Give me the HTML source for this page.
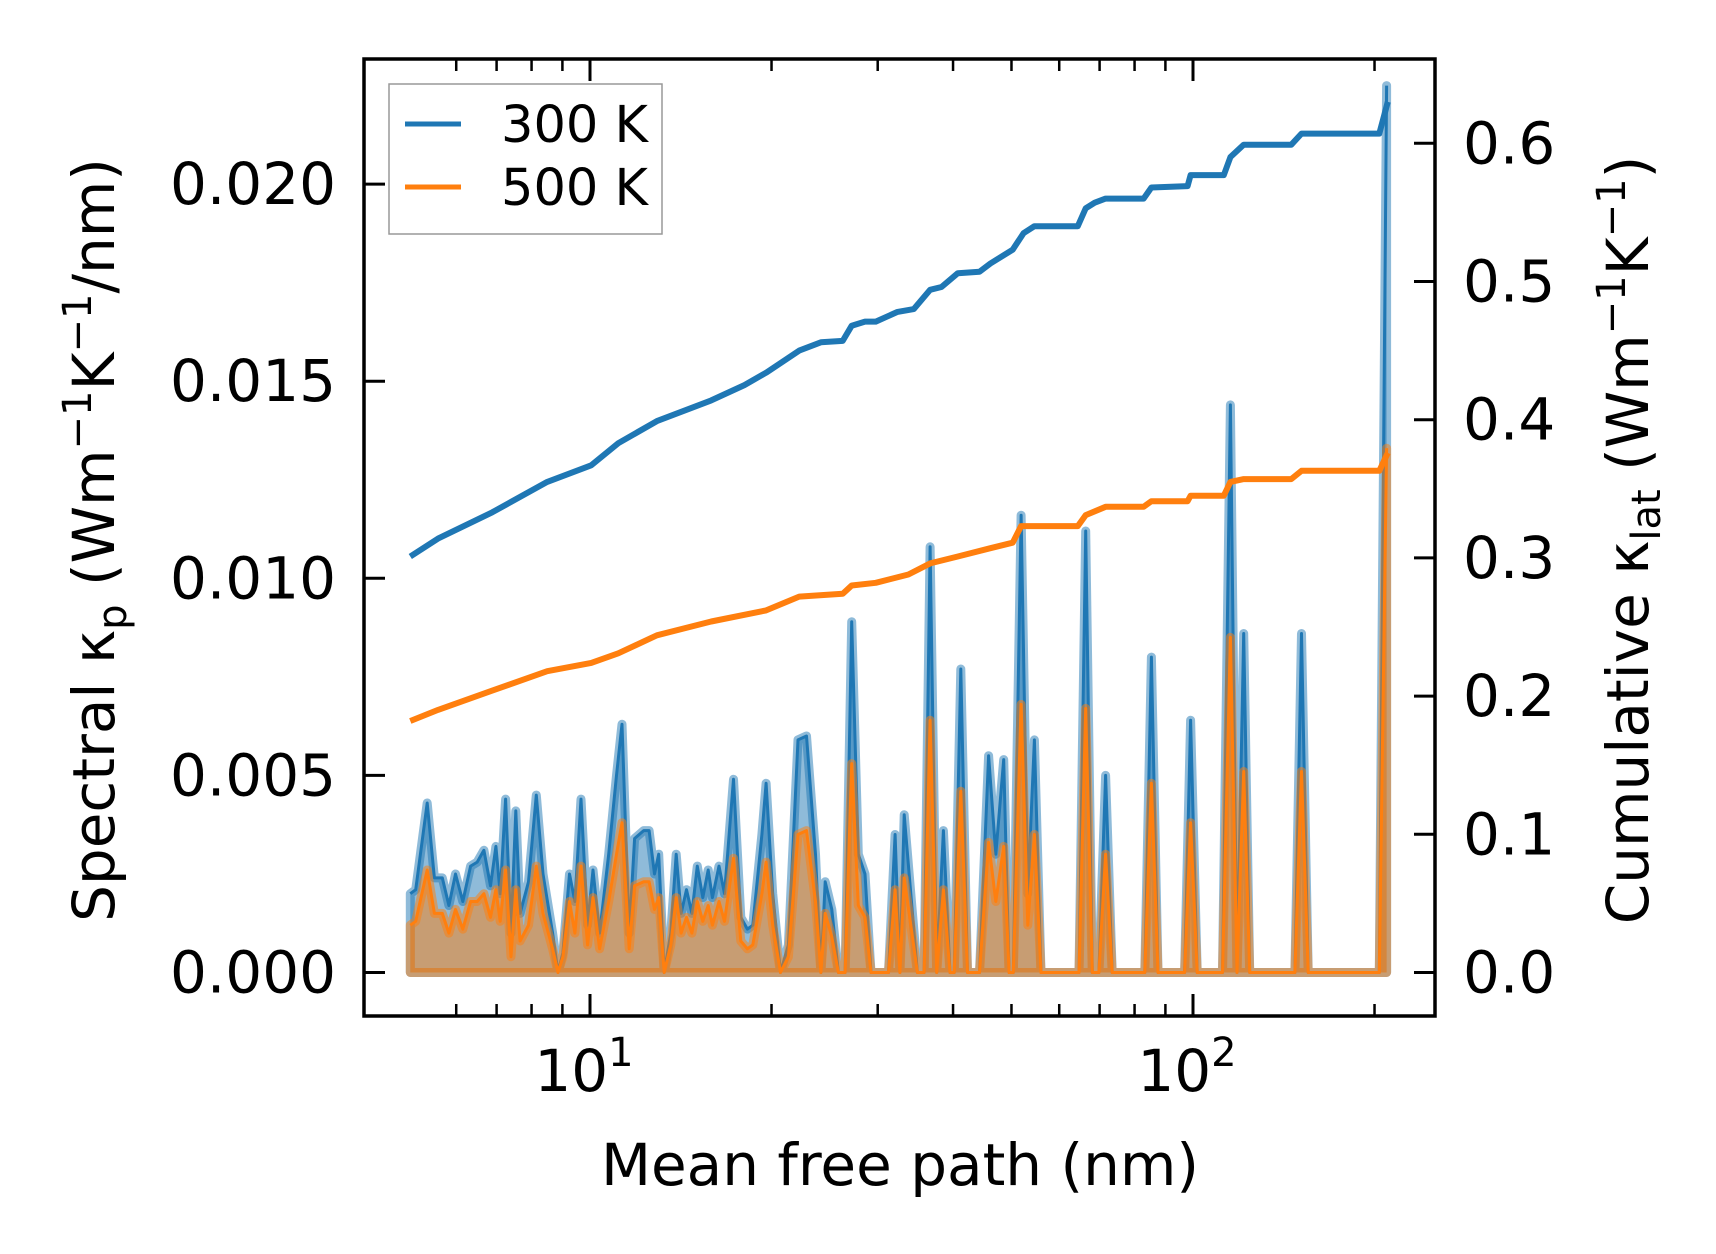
<!DOCTYPE html>
<html><head><meta charset="utf-8">
<style>
html,body{margin:0;padding:0;background:#fff;}
svg{display:block;font-family:"DejaVu Sans","Liberation Sans",sans-serif;}
</style></head>
<body>
<svg id="chart" width="1716" height="1254" viewBox="0 0 1716 1254" xmlns="http://www.w3.org/2000/svg">
<g id="series"></g>
<g id="axes"></g>
</svg>
<script>
// log10 of mean free path (nm) for spectral data
const spectralLogMfp = [
0.702,0.711,0.730,0.742,0.755,0.766,0.777,0.789,0.802,0.813,
0.824,0.835,0.844,0.851,0.860,0.869,0.877,0.884,0.898,0.911,
0.922,0.938,0.947,0.955,0.966,0.975,0.985,0.996,1.005,1.016,
1.031,1.044,1.053,1.065,1.074,1.089,1.098,1.107,1.114,1.123,
1.134,1.143,1.151,1.160,1.169,1.178,1.187,1.196,1.203,1.214,
1.223,1.238,1.250,1.261,1.270,1.285,1.292,1.303,1.316,1.329,
1.345,1.359,1.374,1.383,1.390,1.401,1.412,1.423,1.434,1.445,
1.456,1.466,1.495,1.506,1.514,1.521,1.532,1.543,1.554,1.564,
1.575,1.586,1.597,1.604,1.615,1.626,1.646,1.661,1.673,1.686,
1.695,1.702,1.715,1.726,1.737,1.748,1.811,1.822,1.833,1.844,
1.855,1.866,1.920,1.931,1.942,1.986,1.996,2.007,2.049,2.062,
2.073,2.084,2.094,2.169,2.180,2.191,2.309,2.321];
const spectral300 = [
0.0020,0.0021,0.0043,0.0024,0.0024,0.0017,0.0025,0.0018,0.0027,0.0028,
0.0031,0.0022,0.0032,0.0020,0.0044,0.0010,0.0041,0.0015,0.0023,0.0045,
0.0025,0.0010,0.0000,0.0005,0.0025,0.0018,0.0044,0.0012,0.0026,0.0010,
0.0030,0.0050,0.0063,0.0010,0.0034,0.0036,0.0036,0.0025,0.0030,0.0000,
0.0010,0.0030,0.0015,0.0021,0.0015,0.0027,0.0019,0.0026,0.0019,0.0027,
0.0020,0.0049,0.0014,0.0011,0.0012,0.0035,0.0048,0.0020,0.0000,0.0007,
0.0059,0.0060,0.0030,0.0000,0.0023,0.0016,0.0000,0.0000,0.0089,0.0030,
0.0025,0.0000,0.0000,0.0035,0.0000,0.0040,0.0020,0.0000,0.0000,0.0108,
0.0000,0.0036,0.0000,0.0000,0.0077,0.0000,0.0000,0.0055,0.0030,0.0054,
0.0000,0.0000,0.0116,0.0020,0.0059,0.0000,0.0000,0.0112,0.0000,0.0000,
0.0050,0.0000,0.0000,0.0080,0.0000,0.0000,0.0064,0.0000,0.0000,0.0144,
0.0000,0.0086,0.0000,0.0000,0.0086,0.0000,0.0000,0.0225];
const spectral500 = [
0.0012,0.0013,0.0026,0.0015,0.0015,0.0010,0.0016,0.0011,0.0018,0.0018,
0.0020,0.0014,0.0021,0.0013,0.0026,0.0004,0.0021,0.0008,0.0012,0.0027,
0.0015,0.0006,0.0000,0.0004,0.0018,0.0010,0.0027,0.0007,0.0019,0.0006,
0.0018,0.0030,0.0038,0.0006,0.0022,0.0023,0.0023,0.0016,0.0019,0.0000,
0.0007,0.0019,0.0010,0.0014,0.0010,0.0018,0.0013,0.0017,0.0012,0.0018,
0.0013,0.0029,0.0008,0.0006,0.0007,0.0020,0.0028,0.0012,0.0000,0.0004,
0.0035,0.0036,0.0018,0.0000,0.0015,0.0009,0.0000,0.0000,0.0053,0.0017,
0.0014,0.0000,0.0000,0.0021,0.0000,0.0024,0.0012,0.0000,0.0000,0.0064,
0.0000,0.0021,0.0000,0.0000,0.0046,0.0000,0.0000,0.0033,0.0018,0.0032,
0.0000,0.0000,0.0068,0.0012,0.0035,0.0000,0.0000,0.0067,0.0000,0.0000,
0.0030,0.0000,0.0000,0.0048,0.0000,0.0000,0.0038,0.0000,0.0000,0.0085,
0.0000,0.0051,0.0000,0.0000,0.0051,0.0000,0.0000,0.0133];
const cumLogMfp300 = [0.702,0.748,0.838,0.929,1.002,1.047,1.111,1.201,1.256,1.292,1.347,1.383,1.419,1.434,1.456,1.474,1.510,1.537,1.564,1.583,1.610,1.646,1.664,1.701,1.719,1.737,1.809,1.822,1.837,1.855,1.918,1.931,1.991,1.996,2.051,2.062,2.084,2.163,2.180,2.309,2.323];
const cum300 = [0.301,0.314,0.333,0.355,0.367,0.383,0.399,0.414,0.425,0.434,0.450,0.456,0.457,0.468,0.471,0.471,0.478,0.480,0.494,0.496,0.506,0.507,0.513,0.523,0.535,0.540,0.540,0.553,0.557,0.560,0.560,0.568,0.569,0.577,0.577,0.590,0.599,0.599,0.607,0.607,0.630];
const cumLogMfp500 = [0.702,0.748,0.838,0.929,1.002,1.047,1.111,1.201,1.292,1.347,1.419,1.434,1.474,1.528,1.564,1.610,1.664,1.701,1.715,1.809,1.822,1.855,1.918,1.931,1.991,1.996,2.051,2.062,2.084,2.163,2.180,2.309,2.323];
const cum500 = [0.182,0.190,0.204,0.218,0.224,0.231,0.244,0.254,0.262,0.272,0.274,0.280,0.282,0.288,0.296,0.301,0.307,0.311,0.323,0.323,0.331,0.337,0.337,0.341,0.341,0.345,0.345,0.355,0.357,0.357,0.363,0.363,0.376];
const leftTicks = [0, 0.005, 0.010, 0.015, 0.020];
const leftTickLabels = ["0.000","0.005","0.010","0.015","0.020"];
const rightTicks = [0, 0.1, 0.2, 0.3, 0.4, 0.5, 0.6];
const rightTickLabels = ["0.0","0.1","0.2","0.3","0.4","0.5","0.6"];
const xMajor = [10, 100];
const xMajorExp = ["1","2"];
const xMinor = [6,7,8,9,20,30,40,50,60,70,80,90,200];

const L=364,R=1435,T=59,B=1016;
const xs = lg => 590 + (lg-1)*603;
const xv = v => xs(Math.log10(v));
const yl = v => 972.5 - v*39420;
const yr = v => 972.5 - v*1382;
const NS="http://www.w3.org/2000/svg";
function mk(tag, attrs, parent){const e=document.createElementNS(NS,tag);for(const k in attrs)e.setAttribute(k,attrs[k]);parent.appendChild(e);return e;}
const S=document.getElementById('series'), A=document.getElementById('axes');

function spectral(vals, color, name){
  let pts = spectralLogMfp.map((l,i)=>xs(l).toFixed(1)+','+yl(vals[i]).toFixed(1));
  const x0=xs(spectralLogMfp[0]).toFixed(1), x1=xs(spectralLogMfp[spectralLogMfp.length-1]).toFixed(1);
  const area = mk('polygon',{points: x0+','+yl(0)+' '+pts.join(' ')+' '+x1+','+yl(0), fill:color,'fill-opacity':0.5,stroke:color,'stroke-opacity':0.5,'stroke-width':9,'stroke-linejoin':'round'},S);
  
  
  const line = mk('polyline',{points:pts.join(' '),fill:'none',stroke:color,'stroke-width':3,'stroke-linejoin':'round'},S);
  
  
}
spectral(spectral300,'#1f77b4','spectral-300k');
spectral(spectral500,'#ff7f0e','spectral-500k');

function cum(xsArr, vals, color, name){
  const pts = xsArr.map((l,i)=>xs(l).toFixed(1)+','+yr(vals[i]).toFixed(1));
  const p = mk('polyline',{points:pts.join(' '),fill:'none',stroke:color,'stroke-width':6,'stroke-linejoin':'round'},S);
  
  
}
cum(cumLogMfp300, cum300, '#1f77b4', 'cumulative-300k-line');
cum(cumLogMfp500, cum500, '#ff7f0e', 'cumulative-500k-line');

const frame = mk('rect',{x:L,y:T,width:R-L,height:B-T,fill:'none',stroke:'#000','stroke-width':3.5},A);



leftTicks.forEach((v,i)=>{
  const y=yl(v);
  mk('line',{x1:L,x2:L+21,y1:y,y2:y,stroke:'#000','stroke-width':3},A);
  const t = mk('text',{x:L-28,y:y,'font-size':58,'text-anchor':'end','dominant-baseline':'central'},A);
  t.textContent = leftTickLabels[i];
  
  
});
rightTicks.forEach((v,i)=>{
  const y=yr(v);
  mk('line',{x1:R-21,x2:R,y1:y,y2:y,stroke:'#000','stroke-width':3},A);
  const t = mk('text',{x:R+28,y:y,'font-size':58,'text-anchor':'start','dominant-baseline':'central'},A);
  t.textContent = rightTickLabels[i];
  
  
});
xMajor.forEach((v,i)=>{
  const x=xv(v);
  mk('line',{x1:x,x2:x,y1:B,y2:B-22,stroke:'#000','stroke-width':3},A);
  mk('line',{x1:x,x2:x,y1:T,y2:T+22,stroke:'#000','stroke-width':3},A);
  const t = mk('text',{x:x-6,y:1091,'font-size':58,'text-anchor':'middle'},A);
  t.textContent='10';
  const s = mk('tspan',{dy:-25,'font-size':40},t);
  s.textContent = xMajorExp[i];
  
  
});
xMinor.forEach(v=>{
  const x=xv(v);
  mk('line',{x1:x,x2:x,y1:B,y2:B-12,stroke:'#000','stroke-width':2.5},A);
  mk('line',{x1:x,x2:x,y1:T,y2:T+12,stroke:'#000','stroke-width':2.5},A);
});
</script>
<svg style="position:absolute;left:0;top:0" width="1716" height="1254" xmlns="http://www.w3.org/2000/svg" font-family="DejaVu Sans, Liberation Sans, sans-serif">
<text x="900" y="1185" font-size="58" text-anchor="middle">Mean free path (nm)</text>
<text transform="translate(114,540) rotate(-90)" font-size="58" text-anchor="middle">Spectral κ<tspan font-size="40" dy="12">p</tspan><tspan dy="-12"> (Wm</tspan><tspan font-size="40" dy="-23">−1</tspan><tspan dy="23">K</tspan><tspan font-size="40" dy="-23">−1</tspan><tspan dy="23">/nm)</tspan></text>
<text transform="translate(1648,540) rotate(-90)" font-size="58" text-anchor="middle">Cumulative κ<tspan font-size="40" dy="12">lat</tspan><tspan dy="-12"> (Wm</tspan><tspan font-size="40" dy="-23">−1</tspan><tspan dy="23">K</tspan><tspan font-size="40" dy="-23">−1</tspan><tspan dy="23">)</tspan></text>
<g>
<rect x="389" y="84" width="273" height="150" fill="#fff" fill-opacity="0.8" stroke="#999" stroke-width="1.5"/>
<line x1="405" x2="461" y1="124" y2="124" stroke="#1f77b4" stroke-width="5"/>
<text x="501" y="142" font-size="51">300 K</text>
<line x1="405" x2="461" y1="187" y2="187" stroke="#ff7f0e" stroke-width="5"/>
<text x="501" y="205" font-size="51">500 K</text>
</g>
</svg>
</body></html>
